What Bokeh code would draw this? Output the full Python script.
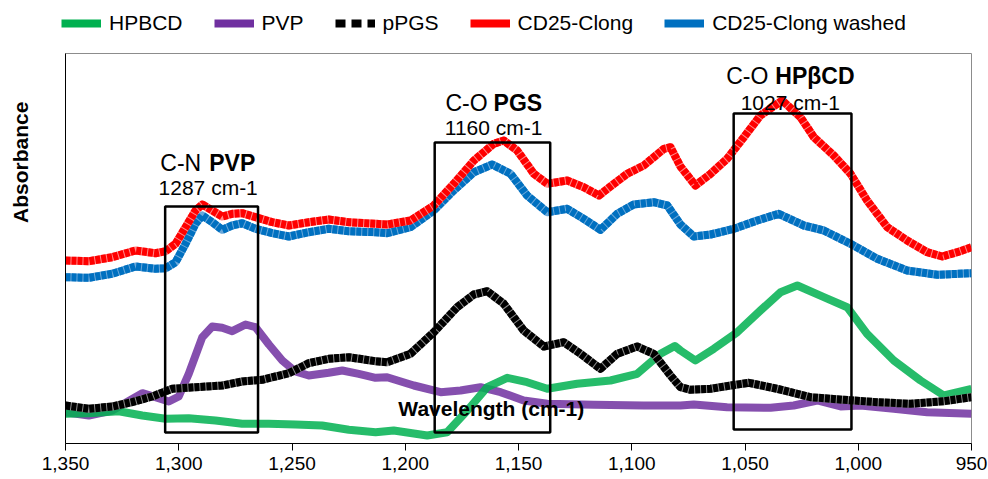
import math
from bokeh.plotting import figure
from bokeh.layouts import column, row
from bokeh.models import Range1d, FixedTicker, NumeralTickFormatter, Label, Legend, LegendItem
from bokeh.embed import file_html
from bokeh.resources import INLINE

# ---------------- data (absorbance, arbitrary units) ----------------
x_ticks = [1350, 1300, 1250, 1200, 1150, 1100, 1050, 1000, 950]

red_x = [1350, 1339.7, 1329.4, 1319.1, 1310.3, 1305.8, 1301.4, 1297, 1292.6, 1289.6, 1285.2, 1280.8,
         1276.4, 1272, 1266.1, 1258.7, 1251.4, 1242.6, 1233.8, 1224.9, 1213.1, 1208, 1197.7, 1187.4,
         1178.6, 1169.7, 1160.9, 1156.5, 1150.6, 1143.2, 1137.3, 1128.5, 1121.2, 1114.5, 1107.9, 1102,
         1094.7, 1085.8, 1082.9, 1078.5, 1071.9, 1065.2, 1057.9, 1050.5, 1043.2, 1033.6, 1025.5, 1019.6,
         1010.8, 1003.4, 996.1, 987.2, 978.4, 969.6, 962.9, 956.3, 950]
red_y = [1.83, 1.823, 1.863, 1.93, 1.903, 1.923, 1.997, 2.163, 2.33, 2.39, 2.33, 2.27,
         2.297, 2.303, 2.263, 2.213, 2.18, 2.213, 2.24, 2.213, 2.197, 2.19, 2.23, 2.38,
         2.597, 2.83, 2.997, 3.03, 2.93, 2.697, 2.597, 2.63, 2.563, 2.48, 2.597, 2.697,
         2.78, 2.947, 2.963, 2.77, 2.58, 2.697, 2.847, 3.063, 3.28, 3.43, 3.263, 3.063,
         2.88, 2.697, 2.43, 2.163, 2.03, 1.913, 1.87, 1.913, 1.963]

blue_x = [1350, 1339.7, 1329.4, 1319.1, 1310.3, 1305.8, 1301.4, 1297, 1292.6, 1289.6, 1285.2, 1280.8,
          1276.4, 1272, 1266.1, 1258.7, 1251.4, 1242.6, 1233.8, 1224.9, 1213.1, 1208, 1197.7, 1187.4,
          1178.6, 1169.7, 1161.6, 1153.5, 1146.2, 1137.3, 1128.5, 1121.2, 1113.8, 1106.4, 1099.1, 1090.3,
          1084.3, 1078.5, 1072.6, 1065.2, 1054.9, 1044.6, 1035.1, 1024, 1015.2, 1003.4, 991.6, 978.4,
          965.1, 950]
blue_y = [1.663, 1.657, 1.697, 1.77, 1.747, 1.753, 1.813, 1.997, 2.197, 2.28, 2.213, 2.137,
          2.18, 2.203, 2.147, 2.103, 2.07, 2.113, 2.147, 2.123, 2.113, 2.103, 2.163, 2.33,
          2.53, 2.713, 2.79, 2.697, 2.48, 2.313, 2.347, 2.247, 2.137, 2.297, 2.39, 2.413,
          2.38, 2.19, 2.07, 2.09, 2.147, 2.23, 2.297, 2.18, 2.13, 1.997, 1.847, 1.73,
          1.687, 1.703]

black_x = [1350, 1339.7, 1329.4, 1320.6, 1311.7, 1302.9, 1292.6, 1280.8, 1272, 1263.2, 1251.4, 1242.6,
           1233.8, 1224.9, 1213.1, 1208, 1197.7, 1187.4, 1177.1, 1169.7, 1163.8, 1156.5, 1147.7, 1138.8,
           1130, 1122.6, 1113.8, 1106.4, 1097.6, 1090.3, 1082.9, 1078.5, 1074.1, 1065.2, 1056.4, 1048.3,
           1035.8, 1021.1, 1006.4, 991.6, 976.9, 962.2, 950]
black_y = [0.38, 0.347, 0.37, 0.413, 0.47, 0.547, 0.563, 0.58, 0.62, 0.637, 0.703, 0.803,
           0.847, 0.863, 0.823, 0.813, 0.897, 1.113, 1.363, 1.49, 1.523, 1.397, 1.13, 0.97,
           1.013, 0.897, 0.747, 0.897, 0.97, 0.897, 0.68, 0.563, 0.537, 0.547, 0.58, 0.607,
           0.547, 0.463, 0.437, 0.413, 0.397, 0.423, 0.463]

purple_x = [1350, 1339.7, 1329.4, 1316.1, 1310.3, 1304.4, 1300, 1295.6, 1289.6, 1285.2, 1280.8, 1276.4,
            1270.5, 1266.1, 1260.2, 1254.3, 1248.5, 1242.6, 1233.8, 1227.8, 1220.5, 1213.1, 1208, 1196.2,
            1184.4, 1175.6, 1166.8, 1157.9, 1147.7, 1137.3, 1116.8, 1094.7, 1078.5, 1072.6, 1057.9, 1038.7,
            1028.5, 1018.1, 1007.8, 999, 984.3, 969.6, 950]
purple_y = [0.313, 0.28, 0.33, 0.503, 0.463, 0.42, 0.47, 0.697, 1.063, 1.17, 1.157, 1.123,
            1.19, 1.163, 0.99, 0.83, 0.72, 0.68, 0.707, 0.73, 0.697, 0.657, 0.663, 0.58,
            0.513, 0.53, 0.563, 0.513, 0.43, 0.397, 0.387, 0.38, 0.38, 0.39, 0.363, 0.357,
            0.38, 0.43, 0.37, 0.38, 0.347, 0.313, 0.297]

green_x = [1350, 1339.7, 1326.5, 1316.1, 1305.8, 1295.6, 1283.8, 1272, 1260.2, 1248.5, 1236.7, 1224.9,
           1213.1, 1205.1, 1190.3, 1181.5, 1172.6, 1163.8, 1155, 1146.2, 1137.3, 1124.1, 1109.4, 1097.6,
           1087.3, 1081, 1078.5, 1071.9, 1063.8, 1053.4, 1043.2, 1034.3, 1026.9, 1015.2, 1004.9, 996.1,
           984.3, 972.5, 962.2, 950]
green_y = [0.297, 0.303, 0.323, 0.28, 0.247, 0.253, 0.23, 0.197, 0.197, 0.19, 0.18, 0.137,
           0.113, 0.13, 0.08, 0.113, 0.33, 0.563, 0.657, 0.613, 0.547, 0.597, 0.63, 0.697,
           0.897, 0.975, 0.93, 0.83, 0.947, 1.113, 1.33, 1.513, 1.58, 1.463, 1.363, 1.097,
           0.83, 0.63, 0.48, 0.547]

box_left = [1306, 1187, 1055]
box_right = [1265, 1136, 1003]
box_bottom = [0.11, 0.11, 0.14]
box_top = [2.37, 3.01, 3.30]

series_names = ["HPBCD", "PVP", "pPGS", "CD25-Clong", "CD25-Clong washed"]

FONT = "Liberation Sans"
TOP_H = 45       # legend strip
LEFT_W = 40      # y-title strip
MAIN_H = 479 - TOP_H


def bare(width, height, xr, yr):
    f = figure(width=width, height=height, x_range=xr, y_range=yr,
               output_backend="svg", toolbar_location=None,
               x_axis_type=None, y_axis_type=None, min_border=0)
    f.xgrid.visible = False
    f.ygrid.visible = False
    f.outline_line_color = None
    return f


# ---------------- legend strip ----------------
leg_fig = bare(988, TOP_H, Range1d(0, 988), Range1d(0, TOP_H))
leg_colors = ["#00B050", "#7030A0", "black", "#FF0000", "#0070C0"]
leg_dash = ["solid", "solid", "10 6", "solid", "solid"]
items = []
for name, c, d in zip(series_names, leg_colors, leg_dash):
    r = leg_fig.line(x=[math.nan, math.nan], y=[math.nan, math.nan], line_color=c, line_width=8, line_dash=d)
    items.append(LegendItem(label=name, renderers=[r]))
legend = Legend(items=items, orientation="horizontal", location=(61, 10),
                padding=0, margin=0, spacing=31, glyph_width=40, glyph_height=10,
                label_standoff=8, label_text_font=FONT, label_text_font_size="21px",
                label_text_color="black", border_line_alpha=0, background_fill_alpha=0)
leg_fig.add_layout(legend)

# ---------------- y title strip ----------------
ttl_fig = bare(LEFT_W, MAIN_H, Range1d(0, LEFT_W), Range1d(0, MAIN_H))
ttl_fig.add_layout(Label(x=20, y=MAIN_H - 121, text="Absorbance", text_font=FONT, text_font_size="21px",
                         text_font_style="bold", text_align="center", text_baseline="middle",
                         angle=math.pi / 2, text_color="black"))

# ---------------- main plot ----------------
p = figure(width=988 - LEFT_W, height=MAIN_H, x_range=Range1d(1350, 950), y_range=Range1d(0, 3.9),
           output_backend="svg", toolbar_location=None,
           min_border_left=65 - LEFT_W, min_border_right=17, min_border_top=53 - TOP_H, min_border_bottom=36)
p.xgrid.visible = False
p.ygrid.visible = False
p.outline_line_color = "#8c8c8c"
p.outline_line_width = 1

p.xaxis.ticker = FixedTicker(ticks=x_ticks)
p.xaxis.formatter = NumeralTickFormatter(format="0,0")
p.xaxis.major_tick_out = 7
p.xaxis.major_tick_in = 0
p.xaxis.minor_tick_line_color = None
p.xaxis.axis_line_color = "black"
p.xaxis.major_tick_line_color = "black"
p.xaxis.major_label_text_font = FONT
p.xaxis.major_label_text_font_size = "19px"
p.xaxis.major_label_text_color = "black"
p.xaxis.major_label_standoff = 6

p.yaxis.ticker = FixedTicker(ticks=[])
p.yaxis.major_tick_line_color = None
p.yaxis.minor_tick_line_color = None
p.yaxis.major_label_text_font_size = "0px"
p.yaxis.major_label_standoff = 0
p.yaxis.axis_line_color = "black"

lw = 8
p.line(purple_x, purple_y, line_color="#7030A0", line_width=lw, line_alpha=0.85, line_join="round")
p.line(green_x, green_y, line_color="#00B050", line_width=lw, line_alpha=0.85, line_join="round")
for xs, ys, c, light in [(black_x, black_y, "black", "#8a8a8a"),
                         (blue_x, blue_y, "#0070C0", "#6aa8da"),
                         (red_x, red_y, "#FF0000", "#ff8a8a")]:
    p.line(xs, ys, line_color=light, line_width=lw, line_join="round")
    p.line(xs, ys, line_color=c, line_width=lw, line_dash="5 1", line_join="round")

p.quad(left=box_left, right=box_right, bottom=box_bottom, top=box_top,
       fill_alpha=0, line_color="black", line_width=2.5)


def lab(x, y, text, bold=False, align="center", xoff=0, size="21px"):
    p.add_layout(Label(x=x, y=y, text=text, text_font=FONT, text_font_size=size,
                       text_font_style="bold" if bold else "normal", text_align=align,
                       text_baseline="alphabetic", x_offset=xoff, text_color="black"))


lab(1287, 2.81, "C-N", align="right", xoff=-7, size="23px")
lab(1287, 2.81, "PVP", bold=True, align="left", xoff=1, size="23px")
lab(1287, 2.56, "1287 cm-1")
lab(1161, 3.41, "C-O", align="right", xoff=-6, size="23px")
lab(1161, 3.41, "PGS", bold=True, align="left", xoff=0, size="23px")
lab(1161, 3.16, "1160 cm-1")
lab(1030, 3.68, "C-O", align="right", xoff=-22, size="23px")
lab(1030, 3.68, "HPβCD", bold=True, align="left", xoff=-15, size="23px")
lab(1030, 3.41, "1027 cm-1")
lab(1162, 0.35, "Wavelength (cm-1)", bold=True)

page = column(leg_fig, row(ttl_fig, p, spacing=0), spacing=0)

open("out.html", "w").write(file_html(page, INLINE))
